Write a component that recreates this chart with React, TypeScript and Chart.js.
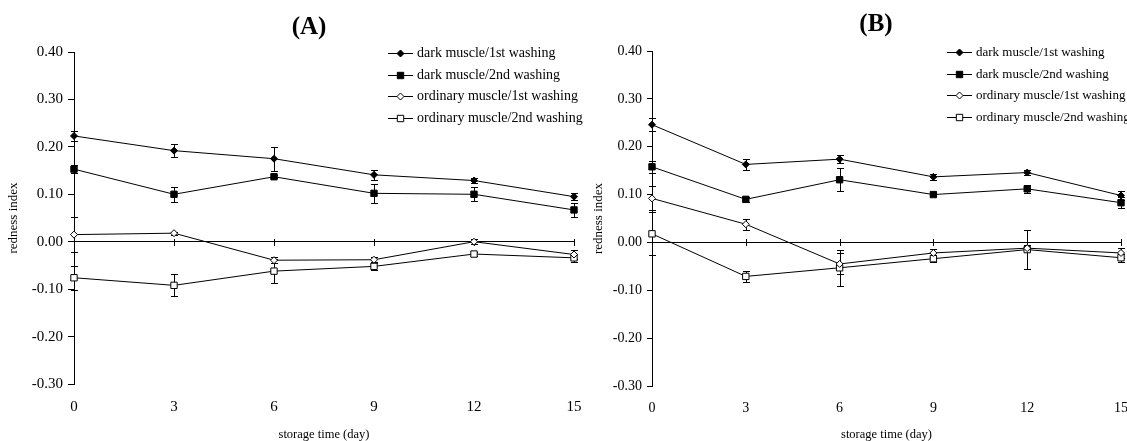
import React, { useEffect, useRef } from 'react';
import { Chart, registerables } from 'chart.js';

Chart.register(...registerables);

// ---------- data ----------
const days = [0, 3, 6, 9, 12, 15];
const seriesNames = [
  'dark muscle/1st washing',
  'dark muscle/2nd washing',
  'ordinary muscle/1st washing',
  'ordinary muscle/2nd washing',
];
const yMin = -0.3;
const yMax = 0.4;
const yStep = 0.1;
const xStep = 3;

// Panel (A)
const aDark1 = [0.223, 0.192, 0.175, 0.141, 0.129, 0.095];
const aDark1Err = [0.010, 0.014, 0.025, 0.011, 0.006, 0.008];
const aDark2 = [0.153, 0.100, 0.137, 0.102, 0.100, 0.067];
const aDark2Err = [0.009, 0.016, 0.003, 0.020, 0.015, 0.014];
const aOrd1 = [0.015, 0.018, -0.039, -0.038, 0.000, -0.027];
const aOrd1Err = [0.037, 0.003, 0.006, 0.005, 0.005, 0.010];
const aOrd2 = [-0.076, -0.092, -0.062, -0.052, -0.026, -0.034];
const aOrd2Err = [0.025, 0.023, 0.026, 0.008, 0.004, 0.008];

// Panel (B)
const bDark1 = [0.246, 0.163, 0.174, 0.137, 0.146, 0.098];
const bDark1Err = [0.014, 0.012, 0.008, 0.006, 0.005, 0.010];
const bDark2 = [0.158, 0.090, 0.131, 0.100, 0.112, 0.083];
const bDark2Err = [0.012, 0.005, 0.024, 0.004, 0.009, 0.012];
const bOrd1 = [0.092, 0.038, -0.045, -0.022, -0.012, -0.022];
const bOrd1Err = [0.025, 0.012, 0.022, 0.008, 0.006, 0.010];
const bOrd2 = [0.018, -0.071, -0.053, -0.034, -0.015, -0.032];
const bOrd2Err = [0.045, 0.011, 0.038, 0.007, 0.040, 0.008];

const SERIF = "'Liberation Serif', 'Times New Roman', serif";

type MarkerKind = 'diamondFill' | 'squareFill' | 'diamondOpen' | 'squareOpen';
const markerKinds: MarkerKind[] = ['diamondFill', 'squareFill', 'diamondOpen', 'squareOpen'];

function drawMarker(ctx: CanvasRenderingContext2D, kind: MarkerKind, x: number, y: number) {
  ctx.save();
  ctx.lineWidth = 1;
  ctx.strokeStyle = '#000';
  const filled = kind === 'diamondFill' || kind === 'squareFill';
  ctx.fillStyle = filled ? '#000' : '#fff';
  ctx.beginPath();
  if (kind === 'diamondFill' || kind === 'diamondOpen') {
    const r = 3.5;
    ctx.moveTo(x, y - r);
    ctx.lineTo(x + r, y);
    ctx.lineTo(x, y + r);
    ctx.lineTo(x - r, y);
    ctx.closePath();
  } else {
    const s = 3.2;
    ctx.rect(x - s, y - s, 2 * s, 2 * s);
  }
  ctx.fill();
  ctx.stroke();
  ctx.restore();
}

const decoPlugin = {
  id: 'deco',
  beforeDatasetsDraw(chart: any) {
    const { ctx } = chart;
    const x = chart.scales.x;
    const y = chart.scales.y;
    ctx.save();
    ctx.strokeStyle = '#000';
    ctx.lineWidth = 1;
    // small tick marks on the zero line
    const y0 = Math.round(y.getPixelForValue(0));
    days.forEach((d) => {
      if (d === days[0]) return;
      const px = Math.round(x.getPixelForValue(d)) + 0.5;
      ctx.beginPath();
      ctx.moveTo(px, y0 - 3);
      ctx.lineTo(px, y0 + 4);
      ctx.stroke();
    });
    // error bars
    chart.data.datasets.forEach((ds: any) => {
      ds.data.forEach((pt: any, i: number) => {
        const e = ds.errors[i];
        const px = Math.round(x.getPixelForValue(pt.x)) + 0.5;
        const yt = Math.round(y.getPixelForValue(pt.y + e)) + 0.5;
        const yb = Math.round(y.getPixelForValue(pt.y - e)) + 0.5;
        ctx.beginPath();
        ctx.moveTo(px, yt);
        ctx.lineTo(px, yb);
        ctx.moveTo(px - 3.5, yt);
        ctx.lineTo(px + 3.5, yt);
        ctx.moveTo(px - 3.5, yb);
        ctx.lineTo(px + 3.5, yb);
        ctx.stroke();
      });
    });
    ctx.restore();
  },
  afterDraw(chart: any, _args: any, opts: any) {
    const { ctx } = chart;
    ctx.save();
    // panel title
    ctx.fillStyle = '#000';
    ctx.font = `bold ${opts.titleSize}px ${SERIF}`;
    ctx.textAlign = 'center';
    ctx.textBaseline = 'middle';
    ctx.fillText(opts.title, opts.titleX, opts.titleY);
    // legend
    ctx.font = `${opts.legendSize}px ${SERIF}`;
    ctx.textAlign = 'left';
    chart.data.datasets.forEach((ds: any, i: number) => {
      const ly = Math.round(opts.legendY + i * opts.legendGap) + 0.5;
      ctx.strokeStyle = '#000';
      ctx.lineWidth = 1;
      ctx.beginPath();
      ctx.moveTo(opts.legendX, ly);
      ctx.lineTo(opts.legendX + 25, ly);
      ctx.stroke();
      drawMarker(ctx, ds.markerKind, opts.legendX + 12.5, ly);
      ctx.fillStyle = '#000';
      ctx.fillText(ds.label, opts.legendX + 29, ly);
    });
    ctx.restore();
  },
};

interface PanelProps {
  left: number;
  width: number;
  title: string;
  values: number[][];
  errors: number[][];
  geo: {
    top: number;
    right: number;
    yWidth: number;
    xHeight: number;
    tickSize: number;
    yTickLen: number;
    yTickPad: number;
    yTitlePad: number;
    titleX: number;
    titleY: number;
    legendX: number;
    legendY: number;
    legendGap: number;
    legendSize: number;
  };
}

function Panel({ left, width, title, values, errors, geo }: PanelProps) {
  const ref = useRef<HTMLCanvasElement | null>(null);
  useEffect(() => {
    if (!ref.current) return;
    const datasets = values.map((vals, si) => {
      const kind = markerKinds[si];
      const filled = kind === 'diamondFill' || kind === 'squareFill';
      const isDiamond = kind === 'diamondFill' || kind === 'diamondOpen';
      return {
        label: seriesNames[si],
        data: days.map((d, i) => ({ x: d, y: vals[i] })),
        errors: errors[si],
        markerKind: kind,
        borderColor: '#000',
        borderWidth: 1,
        backgroundColor: filled ? '#000' : '#fff',
        pointStyle: isDiamond ? 'rectRot' : 'rect',
        pointRadius: isDiamond ? 3.5 : 4.5,
        pointBorderWidth: 1,
        pointBorderColor: '#000',
        pointBackgroundColor: filled ? '#000' : '#fff',
        tension: 0,
        fill: false,
        clip: false,
      };
    });
    const chart = new Chart(ref.current, {
      type: 'line',
      data: { datasets } as any,
      plugins: [decoPlugin as any],
      options: {
        responsive: false,
        animation: false,
        devicePixelRatio: 1,
        layout: { padding: { left: 0, top: geo.top, right: geo.right, bottom: 0 } },
        plugins: {
          legend: { display: false },
          title: { display: false },
          tooltip: { enabled: false },
          deco: {
            title,
            titleSize: 25,
            titleX: geo.titleX,
            titleY: geo.titleY,
            legendX: geo.legendX,
            legendY: geo.legendY,
            legendGap: geo.legendGap,
            legendSize: geo.legendSize,
          },
        } as any,
        scales: {
          x: {
            type: 'linear',
            min: days[0],
            max: days[days.length - 1],
            grid: { display: false, drawTicks: false },
            border: { display: false },
            ticks: {
              stepSize: xStep,
              color: '#000',
              padding: 14,
              font: { family: SERIF, size: geo.tickSize },
              maxRotation: 0,
            },
            title: {
              display: true,
              text: 'storage time (day)',
              color: '#000',
              font: { family: SERIF, size: 12.5, lineHeight: 1 },
              padding: { top: 0, bottom: 0 },
            },
            afterFit: (s: any) => {
              s.height = geo.xHeight;
              s.paddingLeft = 0;
              s.paddingRight = 0;
            },
          } as any,
          y: {
            type: 'linear',
            min: yMin,
            max: yMax,
            grid: {
              color: (c: any) => (c.tick && Math.abs(c.tick.value) < 1e-9 ? '#000' : 'rgba(0,0,0,0)'),
              tickColor: '#000',
              tickLength: geo.yTickLen,
              lineWidth: 1,
            },
            border: { display: true, color: '#000', width: 1 },
            ticks: {
              stepSize: yStep,
              color: '#000',
              padding: geo.yTickPad,
              font: { family: SERIF, size: geo.tickSize },
              callback: (v: any) => Number(v).toFixed(2),
            },
            title: {
              display: true,
              text: 'redness index',
              color: '#000',
              font: { family: SERIF, size: 13, lineHeight: 1.2 },
              padding: { top: geo.yTitlePad, bottom: 0 },
            },
            afterFit: (s: any) => {
              s.width = geo.yWidth;
              s.paddingTop = 0;
              s.paddingBottom = 0;
            },
          } as any,
        },
      },
    });
    return () => chart.destroy();
  }, []);
  return (
    <canvas
      ref={ref}
      width={width}
      height={441}
      style={{ position: 'absolute', left, top: 0, width, height: 441, display: 'block' }}
    />
  );
}

export default function App() {
  return (
    <div
      style={{
        position: 'fixed',
        left: 0,
        top: 0,
        width: 1127,
        height: 441,
        background: '#fff',
        overflow: 'hidden',
      }}
    >
      <Panel
        left={0}
        width={592}
        title="(A)"
        values={[aDark1, aDark2, aOrd1, aOrd2]}
        errors={[aDark1Err, aDark2Err, aOrd1Err, aOrd2Err]}
        geo={{
          top: 52,
          right: 18,
          yWidth: 74,
          xHeight: 57,
          tickSize: 15,
          yTickLen: 6,
          yTickPad: 5,
          yTitlePad: 6,
          titleX: 309,
          titleY: 28,
          legendX: 388,
          legendY: 53,
          legendGap: 21.7,
          legendSize: 14,
        }}
      />
      <Panel
        left={580}
        width={547}
        title="(B)"
        values={[bDark1, bDark2, bOrd1, bOrd2]}
        errors={[bDark1Err, bDark2Err, bOrd1Err, bOrd2Err]}
        geo={{
          top: 51,
          right: 6,
          yWidth: 72,
          xHeight: 55,
          tickSize: 14,
          yTickLen: 5,
          yTickPad: 5,
          yTitlePad: 11,
          titleX: 296,
          titleY: 25,
          legendX: 367,
          legendY: 52,
          legendGap: 21.7,
          legendSize: 13,
        }}
      />
    </div>
  );
}
